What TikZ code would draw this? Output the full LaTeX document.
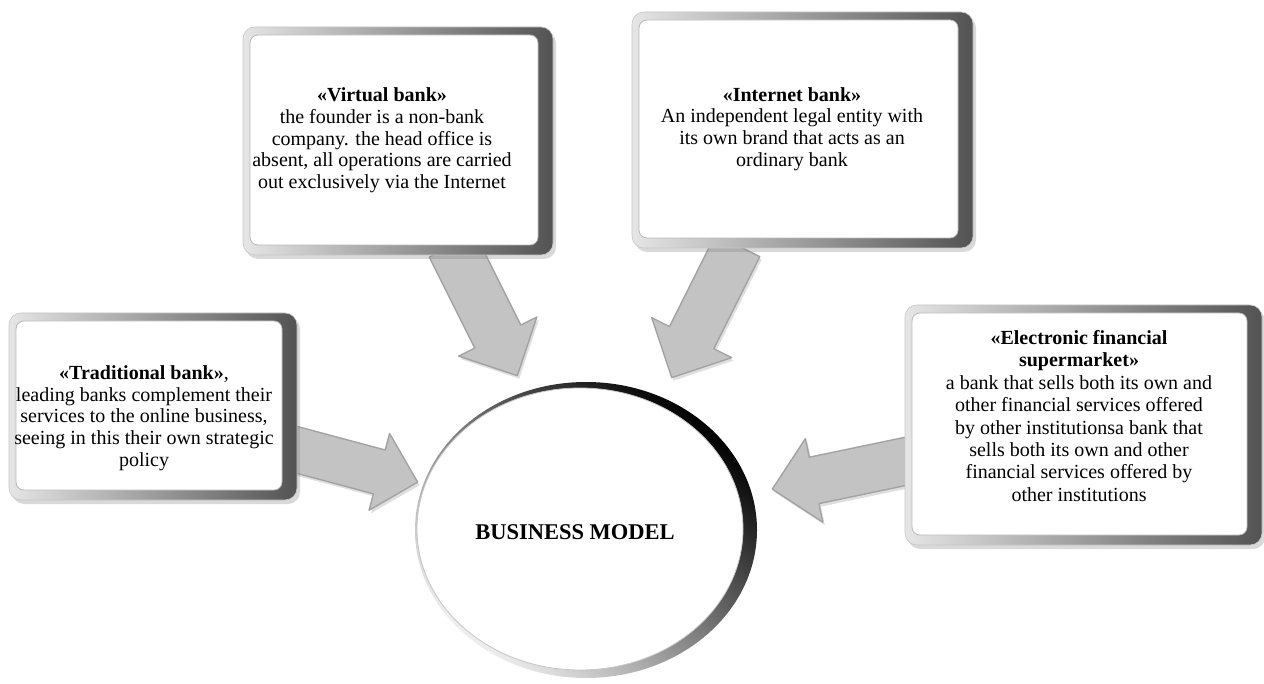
\documentclass[tikz,border=0pt]{standalone}
\usepackage{fontspec}
\setmainfont{Liberation Serif}
\usetikzlibrary{shapes.arrows,shapes.geometric,shadows,calc}

% #1 name, #2 tail, #3 tip, #4 half shaft width, #5 head extend
\newcommand\fatarrow[5]{%
  \path let \p1=($(#3)-(#2)$), \n1={atan2(\y1,\x1)}, \n2={veclen(\x1,\y1)} in
    node[barrow, inner ysep=#4, single arrow head extend=#5,
         minimum height=\n2, rotate=\n1, anchor=tail] (#1) at (#2) {};}

\begin{document}
\begin{tikzpicture}[x=1pt,y=-1pt,
  card/.style={rectangle, rounded corners=12pt, left color=gray!20, middle color=gray!30, right color=gray!65!black,
    draw=gray!45, line width=0.6pt,
    drop shadow={shadow xshift=3pt, shadow yshift=-4pt, opacity=0.3, fill=gray},
    path picture={\fill[white, draw=gray!55, line width=.8pt, rounded corners=8pt]
      ([shift={(7pt,-8pt)}]path picture bounding box.north west) rectangle
      ([shift={(-15pt,10pt)}]path picture bounding box.south east);},
    inner sep=0},
  txt/.style={align=center, font=\fontsize{20}{21.7}\selectfont, inner sep=0, text=black},
  barrow/.style={single arrow, single arrow tip angle=90, fill=gray!47, draw=gray!72,
    line width=1.4pt, inner xsep=0, line join=round,
    drop shadow={shadow xshift=2pt, shadow yshift=-3pt, opacity=0.25, fill=gray}},
]
\useasboundingbox (0,0) rectangle (1264,684);

% arrow end points
\coordinate (t1) at (290,448);  \coordinate (h1) at (417,482);
\coordinate (t2) at (452,245);  \coordinate (h2) at (517,375);
\coordinate (t3) at (738,245);  \coordinate (h3) at (672,377);
\coordinate (t4) at (912,460);  \coordinate (h4) at (773,489);

% block arrows
\fatarrow{arr1}{t1}{h1}{22pt}{17pt}
\fatarrow{arr2}{t2}{h2}{25pt}{18pt}
\fatarrow{arr3}{t3}{h3}{24pt}{20pt}
\fatarrow{arr4}{t4}{h4}{23pt}{19pt}

% boxes
\node[card, minimum width=288pt, minimum height=187pt] (trad) at (153,406.5) {};
\node[card, minimum width=310pt, minimum height=228pt] (virt) at (398,141) {};
\node[card, minimum width=341pt, minimum height=236pt] (inet) at (802.5,130) {};
\node[card, minimum width=357pt, minimum height=240pt] (elec) at (1083.5,425) {};

% central ellipse
\node[ellipse, minimum width=342pt, minimum height=296pt, inner sep=0,
      top color=black, bottom color=gray!12, shading angle=-40,
      path picture={\fill[white, draw=gray!45, line width=.8pt]
        ([shift={(-6pt,1pt)}]path picture bounding box.center) ellipse (163pt and 141pt);}]
      (bm) at (586,530) {};
\node[font=\fontsize{22.5}{24}\selectfont\bfseries, inner sep=0] (bmtxt) at (575,532) {BUSINESS MODEL};

% texts
\node[txt] (tradtxt) at (144,418) {\textbf{«Traditional bank»},\\leading banks complement their\\services to the online business,\\seeing in this their own strategic\\policy};
\node[txt] (virttxt) at (382,140.5) {\textbf{«Virtual bank»}\\the founder is a non-bank\\company. the head office is\\absent, all operations are carried\\out exclusively via the Internet};
\node[txt] (inettxt) at (792,129) {\textbf{«Internet bank»}\\An independent legal entity with\\its own brand that acts as an\\ordinary bank};
\node[txt, font=\fontsize{20}{22.4}\selectfont] (electxt) at (1079,416) {\textbf{«Electronic financial}\\\textbf{supermarket»}\\a bank that sells both its own and\\other financial services offered\\by other institutionsa bank that\\sells both its own and other\\financial services offered by\\other institutions};
\end{tikzpicture}
\end{document}
